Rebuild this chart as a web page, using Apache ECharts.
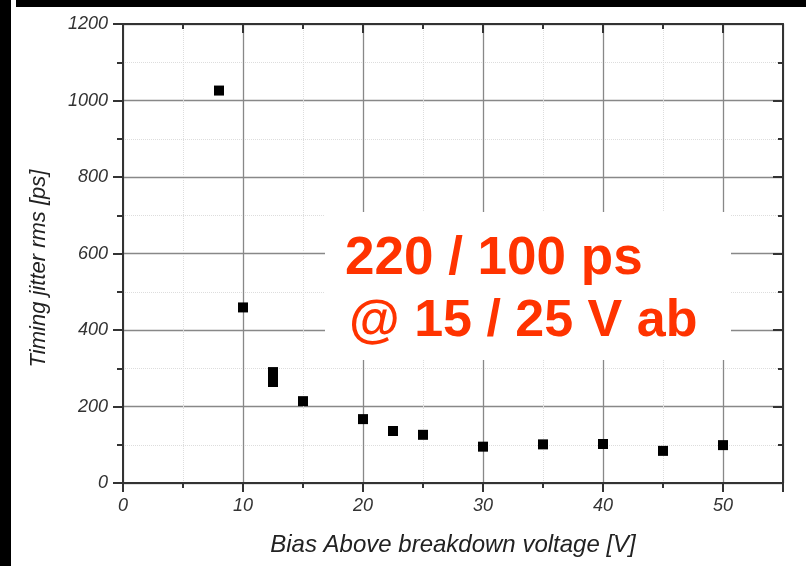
<!DOCTYPE html>
<html>
<head>
<meta charset="utf-8">
<script src="https://cdn.jsdelivr.net/npm/echarts@6/dist/echarts.min.js"></script>
<style>
html,body{margin:0;padding:0;background:#fff;}
#c{width:806px;height:566px;}
</style>
</head>
<body>
<div id="c"></div>
<script>
// Data
const biasVoltage = [8, 10, 12.5, 12.5, 15, 20, 22.5, 25, 30, 35, 40, 45, 50];
const jitterPs    = [1026, 459, 290, 264, 214, 167, 136, 126, 95, 101, 102, 84, 99];
const xTitle = 'Bias Above breakdown voltage [V]';
const yTitle = 'Timing jitter rms [ps]';
const noteLine1 = '220 / 100 ps';
const noteLine2 = '@ 15 / 25 V ab';

const points = biasVoltage.map((v, i) => [v, jitterPs[i]]);

const chart = echarts.init(document.getElementById('c'), null, {renderer: 'canvas'});
const axisColor = '#333';
const labelStyle = {color: '#333', fontStyle: 'italic', fontFamily: 'Liberation Sans, Arial, sans-serif', fontSize: 18};

chart.setOption({
  animation: false,
  backgroundColor: '#fff',
  grid: {left: 123, top: 24, right: 23, bottom: 83, containLabel: false},
  xAxis: [{
    type: 'value', min: 0, max: 55, interval: 10, position: 'bottom',
    name: xTitle, nameLocation: 'middle', nameGap: 50,
    nameTextStyle: {color: '#222', fontStyle: 'italic', fontFamily: 'Liberation Sans, Arial, sans-serif', fontSize: 24},
    axisLine: {show: true, onZero: false, lineStyle: {color: axisColor, width: 2}},
    axisTick: {show: true, inside: false, length: 9, lineStyle: {color: axisColor, width: 2}},
    minorTick: {show: true, splitNumber: 2, length: 5, lineStyle: {color: axisColor, width: 2}},
    axisLabel: {show: true, margin: 14, showMaxLabel: false, ...labelStyle,
      formatter: v => (v > 50 ? '' : String(v))},
    splitLine: {show: true, lineStyle: {color: '#888', width: 1.3}},
    minorSplitLine: {show: true, lineStyle: {color: '#ddd', width: 1, type: 'dotted'}}
  }, {
    type: 'value', min: 0, max: 55, interval: 10, position: 'top',
    axisLine: {show: true, onZero: false, lineStyle: {color: axisColor, width: 2}},
    axisTick: {show: true, inside: true, length: 9, lineStyle: {color: axisColor, width: 2}},
    minorTick: {show: true, splitNumber: 2, length: 5, lineStyle: {color: axisColor, width: 2}},
    axisLabel: {show: false},
    splitLine: {show: false}
  }],
  yAxis: [{
    type: 'value', min: 0, max: 1200, interval: 200, position: 'left',
    name: yTitle, nameLocation: 'middle', nameGap: 73, nameRotate: 90,
    nameTextStyle: {color: '#222', fontStyle: 'italic', fontFamily: 'Liberation Sans, Arial, sans-serif', fontSize: 22, padding: [0, 0, 0, -30]},
    axisLine: {show: true, onZero: false, lineStyle: {color: axisColor, width: 2}},
    axisTick: {show: true, inside: false, length: 10, lineStyle: {color: axisColor, width: 2}},
    minorTick: {show: true, splitNumber: 2, length: 6, lineStyle: {color: axisColor, width: 2}},
    axisLabel: {show: true, margin: 15, ...labelStyle, formatter: v => String(v)},
    splitLine: {show: true, lineStyle: {color: '#888', width: 1.3}},
    minorSplitLine: {show: true, lineStyle: {color: '#ddd', width: 1, type: 'dotted'}}
  }, {
    type: 'value', min: 0, max: 1200, interval: 200, position: 'right',
    axisLine: {show: true, onZero: false, lineStyle: {color: axisColor, width: 2}},
    axisTick: {show: true, inside: true, length: 10, lineStyle: {color: axisColor, width: 2}},
    minorTick: {show: true, splitNumber: 2, length: 5, lineStyle: {color: axisColor, width: 2}},
    axisLabel: {show: false},
    splitLine: {show: false}
  }],
  series: [{
    type: 'scatter',
    xAxisIndex: 0, yAxisIndex: 0,
    data: points,
    symbol: 'rect',
    symbolSize: 10,
    itemStyle: {color: '#000', opacity: 1},
    z: 5
  }],
  graphic: [
    {type: 'rect', left: 0, top: 0, shape: {width: 11, height: 566}, style: {fill: '#000'}, z: 100},
    {type: 'rect', left: 16, top: 0, shape: {width: 790, height: 7}, style: {fill: '#000'}, z: 100},
    {type: 'rect', left: 325, top: 212, shape: {width: 406, height: 148}, style: {fill: '#fff'}, z: 50},
    {type: 'text', left: 345, top: 233, z: 60,
      style: {text: noteLine1, fill: '#ff3300', font: 'bold 53px "Liberation Sans", Arial, sans-serif'}},
    {type: 'text', left: 349, top: 296, z: 60,
      style: {text: noteLine2, fill: '#ff3300', font: 'bold 52px "Liberation Sans", Arial, sans-serif'}}
  ]
});
</script>
</body>
</html>
